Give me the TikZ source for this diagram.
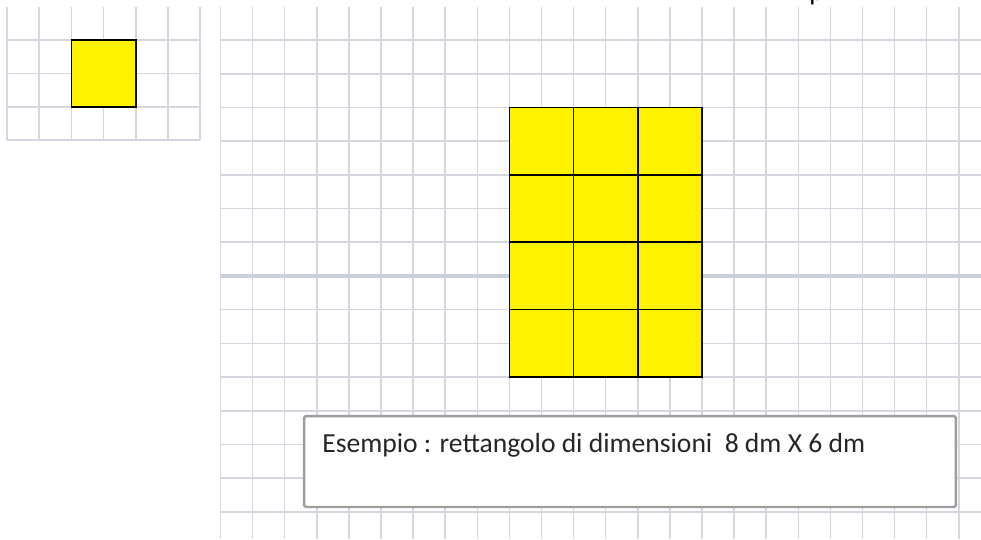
\documentclass[tikz,border=0pt]{standalone}
\usepackage{fontspec}
\setmainfont{Carlito}
\usetikzlibrary{positioning}
\definecolor{gridline}{RGB}{214,214,224}
\definecolor{midline}{RGB}{200,208,220}
\definecolor{boxline}{RGB}{158,158,158}
\tikzset{grid line/.style = {draw=gridline, line width=0.9pt},
         cell/.style = {fill=yellow, draw=black, line width=0.9pt},
         note box/.style = {draw=boxline, line width=1.4pt, fill=white,
                            rounded corners=1pt, inner sep=0pt,
                            minimum width=13.04cm, minimum height=1.82cm}}

\begin{document}
\begin{tikzpicture}[x=0.02cm,y=-0.02cm]
    \useasboundingbox (0,0) rectangle (981,539);
    \foreach \i in {0,...,6} {
      \draw [grid line] (7+32.2*\i, 7) -- (7+32.2*\i, 140);
    }
    \foreach \j in {1,...,4} {
      \draw [grid line] (7, 7+33.25*\j) -- (200, 7+33.25*\j);
    }
    \draw [cell] (71.4, 40.25) rectangle (135.8, 106.75);
    \foreach \i in {0,...,23} {
      \draw [grid line] (220.5+32.1*\i, 7) -- (220.5+32.1*\i, 539);
    }
    \foreach \j in {0,...,14} {
      \draw [grid line] (220.5, 40+33.7*\j) -- (981, 40+33.7*\j);
    }
    \draw [midline, line width=1.8pt] (220.5, 276) -- (981, 276);
    \foreach \i in {0,1,2} {
      \foreach \j in {0,1,2,3} {
        \draw [cell] (509.4+64.2*\i, 107.4+67.4*\j) rectangle ++(64.2, 67.4);
      }
    }
    \node [note box] (nota) at (630, 461.5) {};
    \node [anchor=base west, inner sep=0pt, text=black!85,
           font=\fontsize{15.7}{18}\selectfont]
      (esempio) at (322, 452) {Esempio : rettangolo di dimensioni~~8 dm X 6 dm};
    \node [anchor=base west, inner sep=0pt, font=\fontsize{15.7}{18}\selectfont]
      (taglio) at (809, 0.5) {p};
  \end{tikzpicture}
\end{document}
